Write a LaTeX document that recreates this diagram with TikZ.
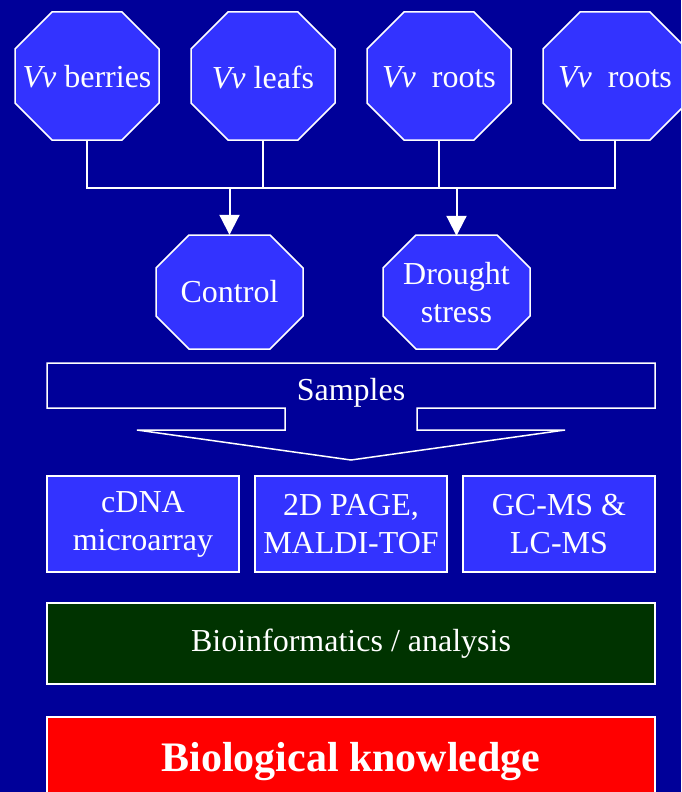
\documentclass[tikz,border=0pt]{standalone}
\usepackage{fontspec}
\setmainfont{Liberation Serif}
\usepackage{tikz}
\usetikzlibrary{arrows.meta}
\definecolor{bgblue}{RGB}{0,0,153}
\definecolor{octblue}{RGB}{51,51,255}
\definecolor{darkgreen}{RGB}{0,51,0}
% octagon: centre, half width, half height, cut
\newcommand{\octagon}[4]{%
  \filldraw[draw=white, fill=octblue, line width=1.5pt, shift={(#1)}]
    ({-#2+#4},-#3) -- ({#2-#4},-#3) -- (#2,{-#3+#4}) -- (#2,{#3-#4})
    -- ({#2-#4},#3) -- ({-#2+#4},#3) -- (-#2,{#3-#4}) -- (-#2,{-#3+#4}) -- cycle;}
\tikzset{
  octtext/.style={text=white, inner sep=0pt, align=center, font=\fontsize{32}{38}\selectfont},
  bigocto/.style={octtext, minimum width=144pt, minimum height=128pt},
  smallocto/.style={octtext, minimum width=147pt, minimum height=114pt},
  method/.style={draw=white, fill=octblue, line width=2pt, text=white, align=center,
    minimum width=192pt, minimum height=96pt, inner sep=0pt, font=\fontsize{32}{38}\selectfont},
  link/.style={draw=white, line width=2pt},
  flow/.style={link, -{Triangle[width=20pt,length=20pt]}},
}
\begin{document}
\begin{tikzpicture}[x=1pt,y=-1pt]
  \useasboundingbox (0,0) rectangle (681,792);
  \clip (0,0) rectangle (681,792);
  \fill[bgblue] (0,0) rectangle (681,792);

  % tissues
  \octagon{87,76}{72}{64}{37}
  \octagon{263,76}{72}{64}{37}
  \octagon{439,76}{72}{64}{37}
  \octagon{615,76}{72}{64}{37}
  \node[bigocto] (berries) at (87,77) {\textit{Vv} berries};
  \node[bigocto] (leafs) at (263,77) {\textit{Vv} leafs};
  \node[bigocto] (rootsa) at (439,77) {\textit{Vv}~~roots};
  \node[bigocto] (rootsb) at (615,77) {\textit{Vv}~~roots};

  \coordinate (bar) at (0,188);
  \draw[link] (berries.south) -- (berries.south |- bar) -- (rootsb.south |- bar) -- (rootsb.south);
  \draw[link] (leafs.south) -- (leafs.south |- bar);
  \draw[link] (rootsa.south) -- (rootsa.south |- bar);

  % treatments
  \octagon{229.5,292}{73.5}{57}{33}
  \octagon{456.5,292}{73.5}{57}{33}
  \node[smallocto] (control) at (229.5,292) {Control};
  \node[smallocto] (drought) at (456.5,293) {Drought\\stress};
  \draw[flow] (control.north |- bar) -- (control.north);
  \draw[flow] (drought.north |- bar) -- (drought.north);

  % block arrow
  \draw[white, line width=1.5pt] (47,363) -- (655,363) -- (655,408) -- (417,408) -- (417,430)
    -- (565,430) -- (351,460) -- (137,430) -- (285,430) -- (285,408) -- (47,408) -- cycle;
  \node[octtext] (pool) at (351,393) {Samples};

  % platforms
  \node[method] (array) at (143,524) {cDNA\\microarray};
  \node[method] (page) at (351,524) {2D PAGE,\\MALDI-TOF};
  \node[method] (ms) at (559,524) {GC-MS \&\\LC-MS};

  \node[method, fill=darkgreen, minimum width=608pt, minimum height=81pt] (bioinf) at (351,643.5)
    {Bioinformatics / analysis};
  \node[method, fill=red, minimum width=608pt, minimum height=90pt,
    font=\fontsize{42}{48}\selectfont\bfseries] (knowledge) at (351,762) {Biological knowledge};
\end{tikzpicture}
\end{document}
